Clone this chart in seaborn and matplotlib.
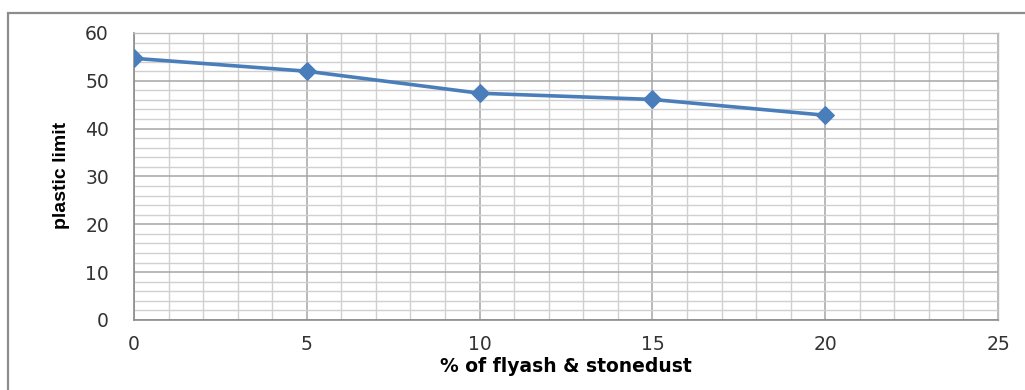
import matplotlib
matplotlib.use("Agg")
import matplotlib.pyplot as plt
import seaborn as sns
import pandas as pd
from matplotlib.patches import Rectangle
from matplotlib.ticker import MultipleLocator

# Plastic limit versus percentage of flyash & stonedust
percent = [0, 5, 10, 15, 20]
plastic_limit = [54.7, 52.0, 47.4, 46.1, 42.8]

df = pd.DataFrame({"percent": percent, "plastic_limit": plastic_limit})

sns.set_style("white")
plt.rcParams["font.family"] = ["DejaVu Sans"]

fig = plt.figure(figsize=(10.25, 3.9), dpi=100)
ax = fig.add_axes([0.1307, 0.1795, 0.843, 0.736])

# outer chart frame
fig.patches.append(Rectangle((8 / 1025, -0.05), 1.1, 1 - 13 / 390 + 0.05,
                             transform=fig.transFigure, fill=False,
                             edgecolor="#8c8c8c", linewidth=1.6, zorder=0))

sns.lineplot(data=df, x="percent", y="plastic_limit", ax=ax,
             color="#4a7ebb", linewidth=2.6, marker="D", markersize=9,
             markeredgecolor="#4a7ebb", zorder=5)

ax.set_xlim(0, 25)
ax.set_ylim(0, 60)
ax.xaxis.set_major_locator(MultipleLocator(5))
ax.xaxis.set_minor_locator(MultipleLocator(1))
ax.yaxis.set_major_locator(MultipleLocator(10))
ax.yaxis.set_minor_locator(MultipleLocator(2))

ax.grid(which="major", color="#a6a6a6", linewidth=1.1)
ax.grid(which="minor", color="#d0d0d0", linewidth=1.0)
ax.set_axisbelow(True)

for side in ["top", "right"]:
    ax.spines[side].set_color("#bdbdbd")
    ax.spines[side].set_linewidth(1.0)
for side in ["left", "bottom"]:
    ax.spines[side].set_color("#8c8c8c")
    ax.spines[side].set_linewidth(1.2)

ax.tick_params(which="major", direction="out", length=8, width=1.1,
               color="#8c8c8c", labelsize=13.5, labelcolor="#333333")
ax.tick_params(which="minor", length=0)
ax.tick_params(axis="y", pad=10)
ax.tick_params(axis="x", pad=3)

ax.set_xlabel("% of flyash & stonedust", fontsize=13.5, fontweight="bold",
              color="black", labelpad=2)
ax.set_ylabel("plastic limit", fontsize=14, fontweight="bold",
              color="black", family=["Liberation Sans", "DejaVu Sans"])
ax.yaxis.set_label_coords(-0.074, 0.505)

fig.savefig("out.png", dpi=100)
